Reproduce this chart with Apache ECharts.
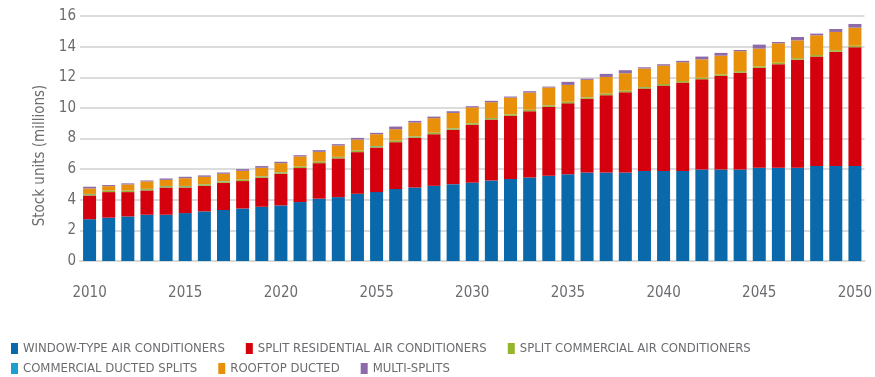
<!DOCTYPE html>
<html>
<head>
<meta charset="utf-8">
<script src="https://cdn.jsdelivr.net/npm/echarts@6/dist/echarts.min.js"></script>
<style>
  html, body { margin: 0; padding: 0; background: #fff; }
  #chart { width: 875px; height: 377px; }
</style>
</head>
<body>
<div id="chart"></div>
<script>
// Air-conditioner stock by type, 2010-2050 (millions of units)
const years = [];
for (let y = 2010; y <= 2050; y++) years.push(String(y));

// Labels shown under every fifth bar
const tickLabels = ['2010', '2015', '2020', '2055', '2030', '2035', '2040', '2045', '2050'];

const windowType = [2.73, 2.83, 2.91, 3.02, 3.02, 3.13, 3.24, 3.33, 3.43, 3.54,
  3.63, 3.85, 4.07, 4.17, 4.39, 4.50, 4.70, 4.80, 4.91, 5.02,
  5.12, 5.26, 5.35, 5.46, 5.57, 5.67, 5.78, 5.78, 5.78, 5.87,
  5.87, 5.87, 5.98, 5.98, 5.98, 6.09, 6.09, 6.09, 6.20, 6.20, 6.20];
const splitResidential = [1.55, 1.67, 1.59, 1.59, 1.78, 1.67, 1.67, 1.78, 1.79, 1.89,
  2.07, 2.22, 2.32, 2.53, 2.72, 2.91, 3.06, 3.24, 3.37, 3.55,
  3.78, 3.98, 4.13, 4.32, 4.50, 4.63, 4.81, 5.05, 5.24, 5.39,
  5.59, 5.78, 5.89, 6.11, 6.32, 6.52, 6.76, 7.06, 7.15, 7.47, 7.76];
const splitCommercial = [0.08, 0.08, 0.08, 0.08, 0.08, 0.08, 0.08, 0.08, 0.08, 0.08,
  0.08, 0.08, 0.08, 0.08, 0.08, 0.08, 0.08, 0.08, 0.08, 0.08,
  0.09, 0.09, 0.09, 0.09, 0.09, 0.09, 0.09, 0.09, 0.09, 0.09,
  0.10, 0.10, 0.10, 0.10, 0.10, 0.10, 0.10, 0.10, 0.10, 0.10, 0.10];
const commercialDucted = [0.02, 0.02, 0.02, 0.02, 0.02, 0.02, 0.02, 0.02, 0.02, 0.02,
  0.02, 0.02, 0.02, 0.02, 0.02, 0.02, 0.02, 0.02, 0.02, 0.02,
  0.01, 0.01, 0.01, 0.01, 0.01, 0.01, 0.01, 0.01, 0.01, 0.01,
  0.00, 0.00, 0.00, 0.00, 0.00, 0.00, 0.00, 0.00, 0.00, 0.00, 0.00];
const rooftopDucted = [0.36, 0.29, 0.40, 0.49, 0.40, 0.51, 0.49, 0.49, 0.57, 0.56,
  0.59, 0.66, 0.64, 0.74, 0.72, 0.77, 0.75, 0.90, 0.95, 1.00,
  1.03, 1.03, 1.09, 1.12, 1.16, 1.10, 1.14, 1.09, 1.14, 1.21,
  1.20, 1.23, 1.20, 1.22, 1.30, 1.16, 1.27, 1.16, 1.29, 1.19, 1.18];
const multiSplits = [0.11, 0.07, 0.07, 0.06, 0.09, 0.09, 0.09, 0.08, 0.11, 0.11,
  0.09, 0.08, 0.11, 0.09, 0.11, 0.09, 0.17, 0.11, 0.10, 0.11,
  0.08, 0.09, 0.07, 0.09, 0.06, 0.20, 0.08, 0.20, 0.20, 0.08,
  0.09, 0.09, 0.18, 0.18, 0.08, 0.26, 0.08, 0.22, 0.11, 0.19, 0.24];

const seriesDefs = [
  { name: 'WINDOW-TYPE AIR CONDITIONERS', data: windowType, color: '#0a69aa' },
  { name: 'SPLIT RESIDENTIAL AIR CONDITIONERS', data: splitResidential, color: '#d5000d' },
  { name: 'SPLIT COMMERCIAL AIR CONDITIONERS', data: splitCommercial, color: '#94b52e' },
  { name: 'COMMERCIAL DUCTED SPLITS', data: commercialDucted, color: '#1c9fcf' },
  { name: 'ROOFTOP DUCTED', data: rooftopDucted, color: '#e8900a' },
  { name: 'MULTI-SPLITS', data: multiSplits, color: '#8d6aa9' }
];

const font = "'Liberation Sans Narrow', 'DejaVu Sans Condensed', 'Roboto', sans-serif";
const textGrey = '#6b6c6f';

const legendText = { color: textGrey, fontFamily: font, fontSize: 13 };

const chart = echarts.init(document.getElementById('chart'), null, { renderer: 'canvas' });
chart.setOption({
  animation: false,
  grid: { left: 80, right: 2, top: 16, bottom: 116, containLabel: false },
  legend: [
    {
      data: seriesDefs.slice(0, 3).map(s => s.name),
      left: 6, top: 337, icon: 'rect', itemWidth: 7, itemHeight: 11, itemGap: 21,
      textStyle: legendText
    },
    {
      data: seriesDefs.slice(3).map(s => s.name),
      left: 6, top: 357, icon: 'rect', itemWidth: 7, itemHeight: 11, itemGap: 21,
      textStyle: legendText
    }
  ],
  xAxis: {
    type: 'category',
    data: years,
    axisLine: { show: true, lineStyle: { color: '#d9d9d9', width: 2 } },
    axisTick: { show: false },
    axisLabel: {
      interval: 0,
      margin: 25,
      color: textGrey,
      fontFamily: font,
      fontSize: 15,
      formatter: (v, i) => (i % 5 === 0 ? tickLabels[i / 5] : '')
    }
  },
  yAxis: {
    type: 'value',
    min: 0, max: 16, interval: 2,
    name: 'Stock units (millions)',
    nameLocation: 'middle',
    nameGap: 25,
    nameTextStyle: { color: textGrey, fontFamily: font, fontSize: 15, padding: [0, 34, 0, 0] },
    axisLine: { show: false },
    axisTick: { show: false },
    axisLabel: { color: textGrey, fontFamily: font, fontSize: 15, margin: 4 },
    splitLine: { lineStyle: { color: '#dcdcdc', width: 2 } }
  },
  series: seriesDefs.map(s => ({
    name: s.name,
    type: 'bar',
    stack: 'total',
    data: s.data,
    barCategoryGap: '32%',
    itemStyle: { color: s.color },
    emphasis: { disabled: true }
  }))
});
</script>
</body>
</html>
